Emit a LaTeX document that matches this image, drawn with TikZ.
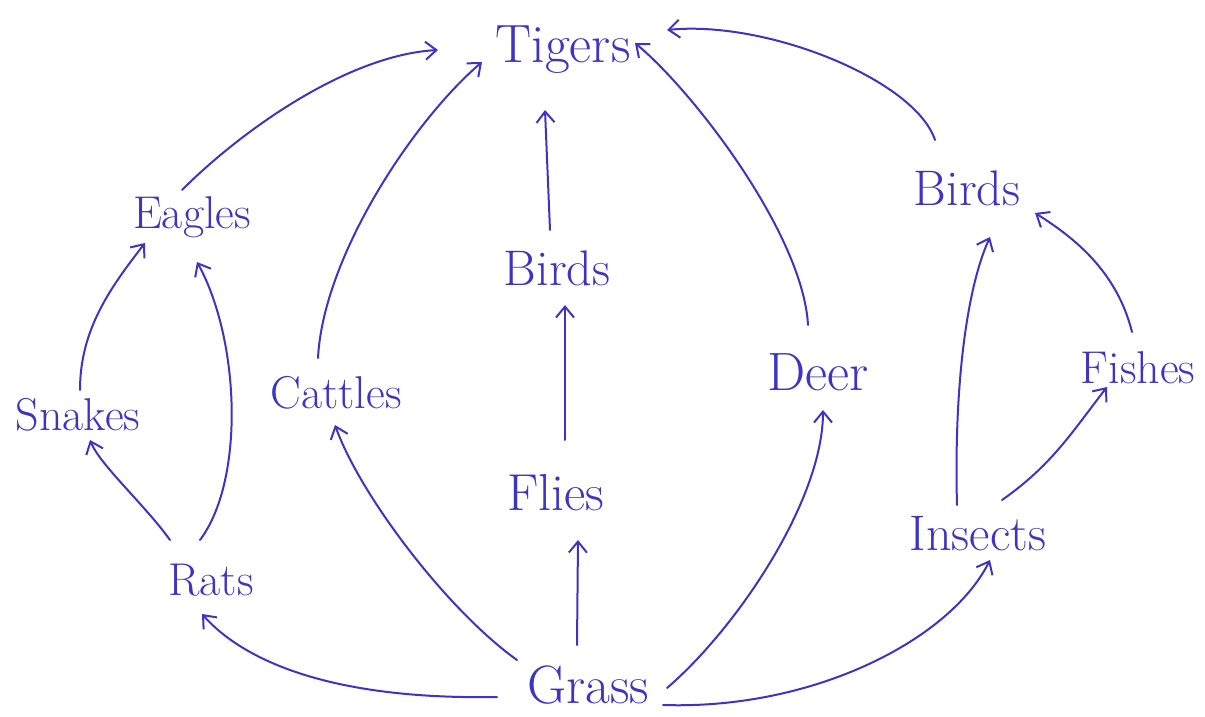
\documentclass[tikz,border=0pt]{standalone}
\usetikzlibrary{arrows.meta,calc}
\definecolor{ink}{RGB}{62,52,196}
\begin{document}
\begin{tikzpicture}[x=1pt,y=-1pt,
  word/.style={text=ink, inner sep=0pt, anchor=base},
  fs/.style={font=\fontsize{#1}{#1}\selectfont},
  arr/.style={draw=ink, line width=2pt, line cap=round,
    -{Straight Barb[length=11pt,width=18pt,line width=2pt]}}]
\useasboundingbox[fill=white] (0,0) rectangle (1205,717);
% nodes
\node[word,fs=54] (tigers) at (563,63) {Tigers};
\node[word,fs=46] (eagles) at (192,228) {Eagles};
\node[word,fs=50] (birdsA) at (557,285) {Birds};
\node[word,fs=50] (birdsB) at (967,205) {Birds};
\node[word,fs=46] (snakes) at (78,430) {Snakes};
\node[word,fs=46] (cattles) at (336,408) {Cattles};
\node[word,fs=54] (deer) at (818,390) {Deer};
\node[word,fs=46] (fishes) at (1138,383) {Fishes};
\node[word,fs=52] (flies) at (556,510) {Flies};
\node[word,fs=50] (insects) at (978,550) {Insects};
\node[word,fs=46] (rats) at (211,595) {Rats};
\node[word,fs=54] (grass) at (588,703) {Grass};
% connectors
\draw[arr] ($(grass.base)+(-91,-6)$) .. controls +(-170,3) and +(40,45) .. ($(rats.base)+(-9,19)$);
\draw[arr] ($(grass.base)+(-71,-43)$) .. controls +(-70,-50) and +(25,70) .. ($(cattles.base)+(-1,17)$);
\draw[arr] ($(grass.base)+(-11,-58)$) -- ($(flies.base)+(22,30)$);
\draw[arr] ($(grass.base)+(79,-15)$) .. controls +(70,-60) and +(0,90) .. ($(deer.base)+(5,20)$);
\draw[arr] ($(grass.base)+(75,2)$) .. controls +(150,5) and +(-40,80) .. ($(insects.base)+(12,10)$);
\draw[arr] ($(rats.base)+(-41,-55)$) .. controls +(-25,-35) and +(10,25) .. ($(snakes.base)+(12,10)$);
\draw[arr] ($(rats.base)+(-11,-55)$) .. controls +(45,-60) and +(43,78) .. ($(eagles.base)+(5,34)$);
\draw[arr] ($(snakes.base)+(2,-40)$) .. controls +(0,-60) and +(-35,45) .. ($(eagles.base)+(-47,15)$);
\draw[arr] ($(eagles.base)+(-10,-38)$) .. controls +(60,-60) and +(-90,5) .. ($(tigers.base)+(-125,-13)$);
\draw[arr] ($(cattles.base)+(-18,-50)$) .. controls +(5,-100) and +(-70,60) .. ($(tigers.base)+(-81,-1)$);
\draw[arr] ($(flies.base)+(9,-70)$) -- ($(birdsA.base)+(8,20)$);
\draw[arr] ($(birdsA.base)+(-7,-55)$) -- ($(tigers.base)+(-18,47)$);
\draw[arr] ($(deer.base)+(-10,-65)$) .. controls +(-5,-90) and +(60,50) .. ($(tigers.base)+(72,-20)$);
\draw[arr] ($(birdsB.base)+(-32,-65)$) .. controls +(-20,-60) and +(100,-10) .. ($(tigers.base)+(104,-33)$);
\draw[arr] ($(insects.base)+(-21,-45)$) .. controls +(-3,-110) and +(-25,55) .. ($(birdsB.base)+(23,32)$);
\draw[arr] ($(insects.base)+(24,-50)$) .. controls +(50,-35) and +(-35,45) .. ($(fishes.base)+(-31,4)$);
\draw[arr] ($(fishes.base)+(-6,-51)$) .. controls +(-15,-60) and +(40,25) .. ($(birdsB.base)+(68,8)$);
\end{tikzpicture}
\end{document}
